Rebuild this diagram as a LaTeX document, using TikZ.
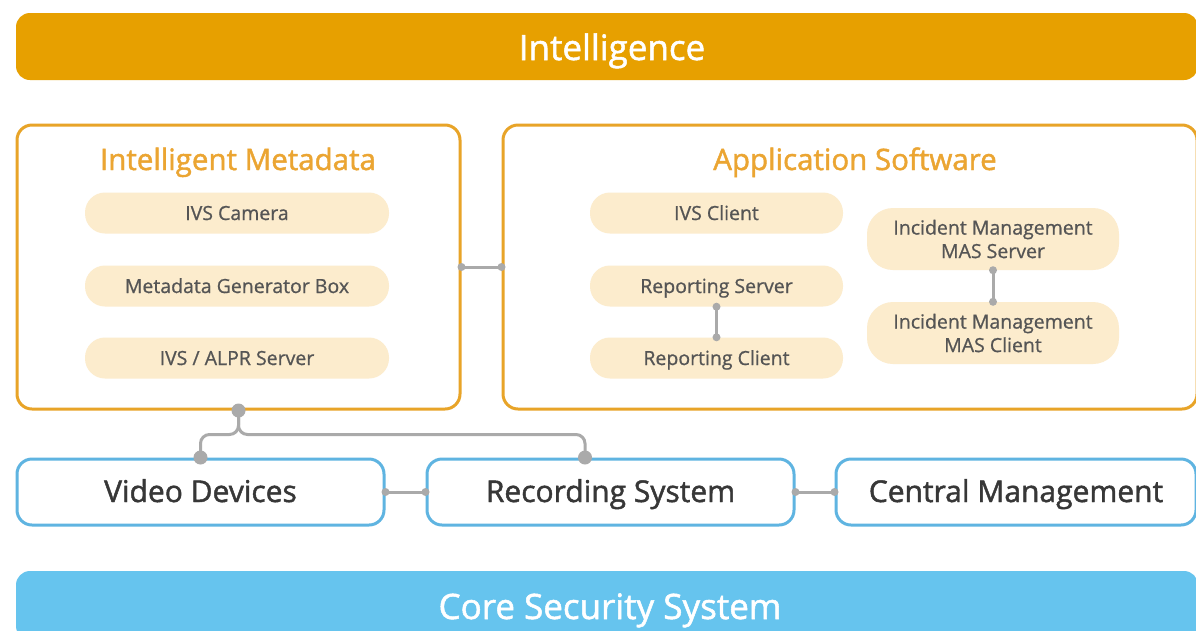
\documentclass[tikz,border=0pt]{standalone}
\usepackage{fontspec}
\setmainfont{Open Sans}
\newfontfamily\semib{Open Sans}[FakeBold=1.5]
\newfontfamily\semil{Open Sans}[FakeBold=0.8]
\definecolor{obar}{RGB}{231,160,0}
\definecolor{oline}{RGB}{232,164,40}
\definecolor{otext}{RGB}{235,165,50}
\definecolor{pillfill}{RGB}{252,236,205}
\definecolor{pilltext}{RGB}{85,85,85}
\definecolor{bline}{RGB}{95,180,225}
\definecolor{bbar}{RGB}{102,196,238}
\definecolor{conn}{RGB}{170,170,170}
\definecolor{btext}{RGB}{55,55,55}
\tikzset{
  bar/.style={rounded corners=14pt, inner sep=0pt, text=white, font=\semib\fontsize{35}{38}\selectfont},
  group/.style={draw=oline, line width=3pt, rounded corners=15pt, fill=white, inner sep=0pt},
  gtitle/.style={text=otext, font=\semib\fontsize{29.5}{32}\selectfont, inner sep=0pt, anchor=base},
  pill/.style={fill=pillfill, rounded corners=20pt, inner sep=0pt, text=pilltext,
    font=\semil\fontsize{19.5}{23.5}\selectfont, align=center, text height=14pt, text depth=0pt},
  mpill/.style={fill=pillfill, rounded corners=26pt, inner sep=0pt, text=pilltext,
    font=\semil\fontsize{19.5}{23.5}\selectfont, align=center},
  sysbox/.style={draw=bline, line width=3pt, rounded corners=15pt, fill=white, inner sep=0pt,
    minimum height=66pt, text=btext, font=\semib\fontsize{30}{33}\selectfont, text height=20pt, text depth=0pt},
  link/.style={draw=conn, line width=3pt},
  bigdot/.style={fill=conn, circle, inner sep=0pt, minimum size=14pt},
  smalldot/.style={fill=conn, circle, inner sep=0pt, minimum size=8pt}
}
\begin{document}
\begin{tikzpicture}[x=1pt,y=-1pt]
\useasboundingbox (0,0) rectangle (1196,630);
\fill[white] (0,0) rectangle (1196,630);
\clip (0,0) rectangle (1196,630);

% top and bottom bars
\node[bar, fill=obar, minimum width=1182pt, minimum height=67pt] (intel) at (607,46.5) {};
\node[bar, anchor=base] (inteltxt) at (612,60) {Intelligence};
\node[bar, fill=bbar, minimum width=1182pt, minimum height=69pt] (core) at (607,605.5) {};
\node[bar, anchor=base] (coretxt) at (610,619) {Core Security System};

% group boxes
\node[group, minimum width=443pt, minimum height=284pt] (meta) at (238.5,267) {};
\node[group, minimum width=694pt, minimum height=284pt] (app) at (850,267) {};
\node[gtitle] (metat) at (238,170) {Intelligent Metadata};
\node[gtitle] (appt) at (855,170) {Application Software};

% metadata pills
\node[pill, minimum width=304pt, minimum height=41pt] (cam) at (237,213) {IVS Camera};
\node[pill, minimum width=304pt, minimum height=41pt] (mgb) at (237,286) {Metadata Generator Box};
\node[pill, minimum width=304pt, minimum height=41pt] (alpr) at (237,358) {IVS / ALPR Server};

% application pills
\node[pill, minimum width=253pt, minimum height=41pt] (ivsc) at (716.5,213) {IVS Client};
\node[pill, minimum width=253pt, minimum height=41pt] (reps) at (716.5,286) {Reporting Server};
\node[pill, minimum width=253pt, minimum height=41pt] (repc) at (716.5,358) {Reporting Client};
\node[mpill, minimum width=252pt, minimum height=62pt] (mass) at (993,239) {Incident Management\\MAS Server};
\node[mpill, minimum width=252pt, minimum height=62pt] (masc) at (993,333) {Incident Management\\MAS Client};

% system boxes
\node[sysbox, minimum width=367pt] (vid) at (200.5,492) {Video Devices};
\node[sysbox, minimum width=367pt] (rec) at (610.5,492) {Recording System};
\node[sysbox, minimum width=360pt] (cen) at (1016,492) {Central Management};

% connectors
\draw[link] (meta.east) -- (app.west);
\node[smalldot] at (meta.east) {};
\node[smalldot] at (app.west) {};

\draw[link] (reps.south) -- (repc.north);
\node[smalldot] at (reps.south) {};
\node[smalldot] at (repc.north) {};

\draw[link] (mass.south) -- (masc.north);
\node[smalldot] at (mass.south) {};
\node[smalldot] at (masc.north) {};

\draw[link] (vid.east) -- (rec.west);
\node[smalldot] at (vid.east) {};
\node[smalldot] at (rec.west) {};

\draw[link] (rec.east) -- (cen.west);
\node[smalldot] at (rec.east) {};
\node[smalldot] at (cen.west) {};

\coordinate (recin) at ([xshift=-25.5pt]rec.north);
\draw[link, rounded corners=9pt] (meta.south) -- ++(0,24) -| (vid.north);
\draw[link, rounded corners=9pt] (meta.south) -- ++(0,24) -| (recin);
\node[bigdot] at (meta.south) {};
\node[bigdot] at (vid.north) {};
\node[bigdot] at (recin) {};
\end{tikzpicture}
\end{document}
